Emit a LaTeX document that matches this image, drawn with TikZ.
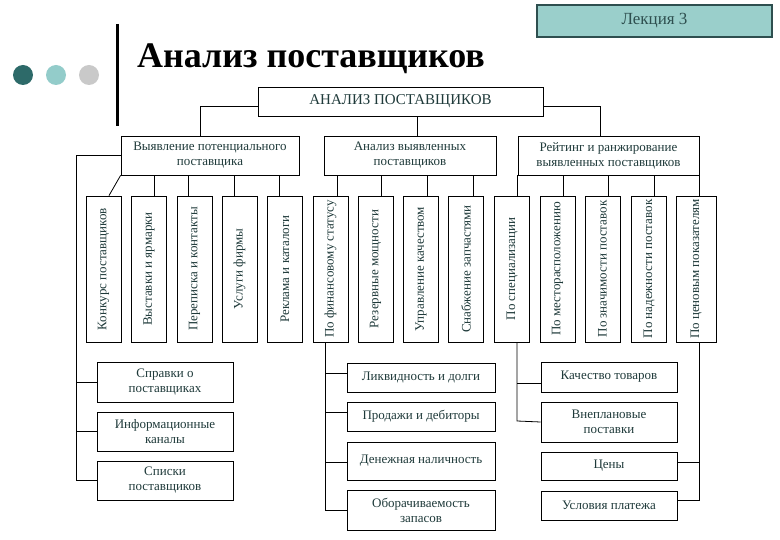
\documentclass[tikz,border=0pt]{standalone}
\usepackage{fontspec}
\setmainfont{Liberation Serif}
\usepackage{graphicx}
\definecolor{txt}{HTML}{1F3A3A}
\definecolor{hdrfill}{HTML}{9ACFCB}
\definecolor{hdrborder}{HTML}{2E4F4F}
\definecolor{dotA}{HTML}{2D6A69}
\definecolor{dotB}{HTML}{93CCCA}
\definecolor{dotC}{HTML}{C9C9C9}
\begin{document}
\begin{tikzpicture}[x=1pt,y=-1pt,
  box/.style={draw=black, line width=0.8pt, fill=white, inner sep=0pt, align=center,
    text=txt, font=\fontsize{13}{15}\selectfont},
  vbox/.style={box, minimum width=35pt, minimum height=146pt},
  bbox/.style={box, minimum height=29pt},
  conn/.style={draw=black, line width=0.8pt},
  dot/.style={circle, inner sep=0pt, minimum size=20pt}]
\useasboundingbox (0,0) rectangle (780,540);

% header
\node[draw=hdrborder, fill=hdrfill, line width=1.2pt, minimum width=235pt, minimum height=32pt,
  inner sep=0pt, text=hdrborder, font=\fontsize{17}{20}\selectfont] (hdr) at (654.5,21) {Лекция 3};
\node[dot, fill=dotA] (d1) at (23,75) {};
\node[dot, fill=dotB] (d2) at (56,75) {};
\node[dot, fill=dotC] (d3) at (89,75) {};
\coordinate (barT) at (117,24);
\coordinate (barB) at (117,126);
\draw[line width=3pt] (barT) -- (barB);
\node[anchor=base west, inner sep=0pt, font=\fontsize{36}{40}\selectfont\bfseries] (title) at (137,68) {Анализ поставщиков};

% top level
\node[box, minimum width=285pt, minimum height=29pt, font=\fontsize{15}{17}\selectfont] (top) at (400.5,101.5) {АНАЛИЗ ПОСТАВЩИКОВ};
\node[box, minimum width=178pt, minimum height=39pt] (gL) at (210,155.5) {Выявление потенциального\\поставщика};
\node[box, minimum width=172pt, minimum height=39pt] (gM) at (410,155.5) {Анализ выявленных\\поставщиков};
\node[box, minimum width=181pt, minimum height=39pt] (gR) at (608.5,155.5) {Рейтинг и ранжирование\\выявленных поставщиков};

% vertical boxes
\node[vbox] (v1) at (103.5,269) {\rotatebox{90}{Конкурс поставщиков}};
\node[vbox] (v2) at (149,269) {\rotatebox{90}{Выставки и ярмарки}};
\node[vbox] (v3) at (194.5,269) {\rotatebox{90}{Переписка и контакты}};
\node[vbox] (v4) at (239.5,269) {\rotatebox{90}{Услуги фирмы}};
\node[vbox] (v5) at (285,269) {\rotatebox{90}{Реклама и каталоги}};
\node[vbox] (v6) at (330.5,269) {\rotatebox{90}{По финансовому статусу}};
\node[vbox] (v7) at (375.5,269) {\rotatebox{90}{Резервные мощности}};
\node[vbox] (v8) at (421,269) {\rotatebox{90}{Управление качеством}};
\node[vbox] (v9) at (466,269) {\rotatebox{90}{Снабжение запчастями}};
\node[vbox] (v10) at (512,269) {\rotatebox{90}{По специализации}};
\node[vbox] (v11) at (557.5,269) {\rotatebox{90}{По месторасположению}};
\node[vbox] (v12) at (602.5,269) {\rotatebox{90}{По значимости поставок}};
\node[vbox] (v13) at (649,269) {\rotatebox{90}{По надежности поставок}};
\node[vbox, minimum width=40pt] (v14) at (696,269) {\rotatebox{90}{По ценовым показателям}};

% bottom left
\node[box, minimum width=136pt, minimum height=40pt] (bl1) at (165,382) {Справки о\\поставщиках};
\node[box, minimum width=136pt, minimum height=39pt] (bl2) at (165,431.5) {Информационные\\каналы};
\node[box, minimum width=136pt, minimum height=39pt] (bl3) at (165,480.5) {Списки\\поставщиков};

% bottom middle
\node[box, minimum width=148pt, minimum height=29pt] (bm1) at (421,377.5) {Ликвидность и долги};
\node[box, minimum width=148pt, minimum height=29pt] (bm2) at (421,416.5) {Продажи и дебиторы};
\node[box, minimum width=148pt, minimum height=38pt] (bm3) at (421,461) {Денежная наличность};
\node[box, minimum width=148pt, minimum height=40pt] (bm4) at (421,510) {Оборачиваемость\\запасов};

% bottom right
\node[box, minimum width=136pt, minimum height=30pt] (br1) at (609,377) {Качество товаров};
\node[box, minimum width=136pt, minimum height=40pt] (br2) at (609,422) {Внеплановые\\поставки};
\node[box, minimum width=136pt, minimum height=28pt] (br3) at (609,466) {Цены};
\node[box, minimum width=136pt, minimum height=29pt] (br4) at (609,505.5) {Условия платежа};

% connectors top
\draw[conn] ([yshift=-4.5pt]top.west) -| ([xshift=-10pt]gL.north);
\draw[conn] ([yshift=-4.5pt]top.east) -| ([xshift=-8.5pt]gR.north);
\draw[conn] ([xshift=16.5pt]top.south) -- ([xshift=7pt]gM.north);

% left group
\draw[conn] (gL.south west) -- ([xshift=5.5pt]v1.north);
\draw[conn] ([xshift=5pt]v2.north) -- ([xshift=5pt]v2.north |- gL.south);
\draw[conn] ([xshift=-6.5pt]v3.north) -- ([xshift=-6.5pt]v3.north |- gL.south);
\draw[conn] ([xshift=-5.5pt]v4.north) -- ([xshift=-5.5pt]v4.north |- gL.south);
\draw[conn] ([xshift=-6pt]v5.north) -- ([xshift=-6pt]v5.north |- gL.south);

% middle group
\draw[conn] ([xshift=6.5pt]v6.north) -- ([xshift=6.5pt]v6.north |- gM.south);
\draw[conn] ([xshift=5.5pt]v7.north) -- ([xshift=5.5pt]v7.north |- gM.south);
\draw[conn] ([xshift=6pt]v8.north) -- ([xshift=6pt]v8.north |- gM.south);
\draw[conn] ([xshift=7pt]v9.north) -- ([xshift=7pt]v9.north |- gM.south);

% right group
\draw[conn] (gR.south west) -- (gR.south west |- v10.north);
\draw[conn] ([xshift=5.5pt]v11.north) -- ([xshift=5.5pt]v11.north |- gR.south);
\draw[conn] ([xshift=5.5pt]v12.north) -- ([xshift=5.5pt]v12.north |- gR.south);
\draw[conn] ([xshift=5pt]v13.north) -- ([xshift=5pt]v13.north |- gR.south);
\draw[conn] (gR.south east) -- (gR.south east |- v14.north);

% left bottom tree
\coordinate (lv) at (76,480.5);
\draw[conn] (gL.west) -| (lv) -- (bl3.west);
\draw[conn] (bl1.west) -- (bl1.west -| lv);
\draw[conn] (bl2.west) -- (bl2.west -| lv);

% middle bottom tree
\coordinate (mv) at (325,510);
\draw[conn] (v6.south -| mv) -- (mv) -- (bm4.west);
\draw[conn] ([yshift=4.5pt]bm1.west) -- ([yshift=4.5pt]bm1.west -| mv);
\draw[conn] ([yshift=4.5pt]bm2.west) -- ([yshift=4.5pt]bm2.west -| mv);
\draw[conn] ([yshift=-1pt]bm3.west) -- ([yshift=-1pt]bm3.west -| mv);

% right bottom trees
\coordinate (rv1) at (517,421);
\draw[conn] (v10.south -| rv1) -- (rv1) -- (br2.west);
\draw[conn] ([yshift=-6pt]br1.west) -- ([yshift=-6pt]br1.west -| rv1);
\coordinate (rv2) at (699,500);
\draw[conn] (v14.south -| rv2) -- (rv2) -- (rv2 -| br4.east);
\draw[conn] ([yshift=4pt]br3.east) -- ([yshift=4pt]br3.east -| rv2);
\end{tikzpicture}
\end{document}
